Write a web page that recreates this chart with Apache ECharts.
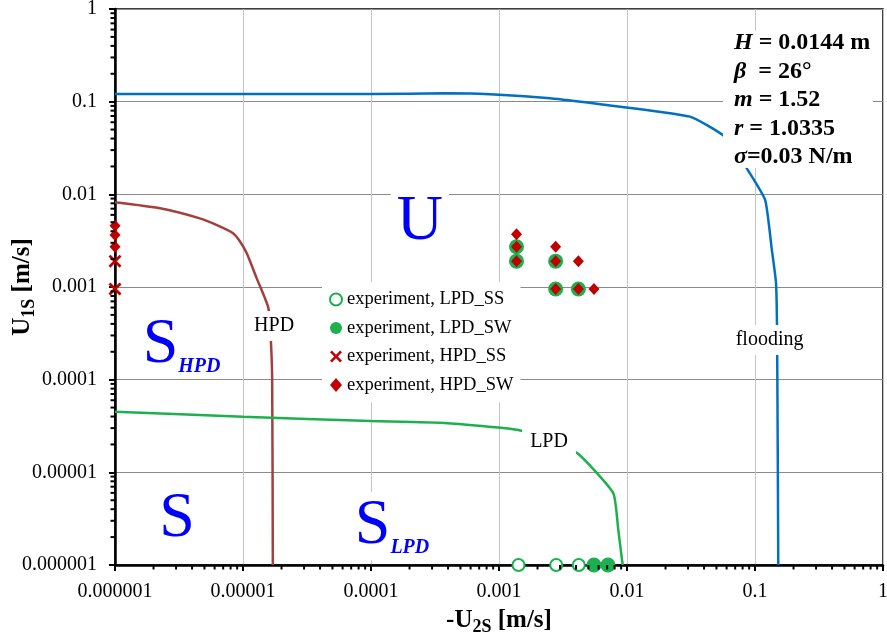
<!DOCTYPE html>
<html>
<head>
<meta charset="utf-8">
<script src="https://cdn.jsdelivr.net/npm/echarts@6/dist/echarts.min.js"></script>
<style>html,body{margin:0;padding:0;background:#fff}#c{width:887px;height:642px}</style>
</head>
<body>
<div id="c"></div>
<script>
// ---- data ----
const decadeLabels = ['0.000001','0.00001','0.0001','0.001','0.01','0.1','1'];
const floodingLine = [[1e-6,0.121],[1e-5,0.121],[1e-4,0.121],[3.8e-4,0.123],[1e-3,0.119],[2.5e-3,0.109],[5.6e-3,0.0955],[0.031,0.069],[0.058,0.042],[0.0845,0.0199],[0.12,0.0087],[0.135,0.0026],[0.146,0.0011],[0.149,0.00024],[0.152,1e-6]];
const hpdLine = [[1e-6,0.0082],[2.25e-6,0.00706],[4.6e-6,0.0055],[6.2e-6,0.00467],[8.36e-6,0.0038],[9.5e-6,0.00308],[1.07e-5,0.00231],[1.28e-5,0.00124],[1.58e-5,5.9e-4],[1.65e-5,2.68e-4],[1.69e-5,1e-4],[1.71e-5,1e-6]];
const lpdLine = [[1e-6,4.51e-5],[1e-5,3.98e-5],[1e-4,3.58e-5],[3.78e-4,3.41e-5],[1.42e-3,2.86e-5],[2.43e-3,2.2e-5],[4.17e-3,1.58e-5],[7.82e-3,5.94e-6],[8.55e-3,2.39e-6],[9.25e-3,1e-6]];
const lpdSS = [[1.42e-3,1e-6],[2.8e-3,1e-6],[4.2e-3,1e-6]];
const lpdSW = [[5.52e-3,1e-6],[7.1e-3,1e-6],[1.37e-3,0.00272],[1.37e-3,0.0019],[2.77e-3,0.0019],[2.77e-3,0.00095],[4.17e-3,0.00095]];
const hpdSS = [[1e-6,0.00095],[1e-6,0.0019]];
const hpdSW = [[1e-6,0.00272],[1e-6,0.00364],[1e-6,0.00458],[1.37e-3,0.0037],[1.37e-3,0.00272],[1.37e-3,0.0019],[2.77e-3,0.00272],[2.77e-3,0.0019],[2.77e-3,0.00095],[4.17e-3,0.0019],[4.17e-3,0.00095],[5.52e-3,0.00095]];
const seriesNames = ['experiment, LPD_SS','experiment, LPD_SW','experiment, HPD_SS','experiment, HPD_SW'];
const curveLabels = [
  {name:'HPD', value:[1.75e-5,3.8e-4]},
  {name:'LPD', value:[2.46e-3,2.15e-5]},
  {name:'flooding', value:[0.130,2.68e-4]}
];
const regionLabels = [
  {name:'U', sub:'', value:[2.41e-4,5.0e-3]},
  {name:'S', sub:'HPD', value:[3.31e-6,2.37e-4]},
  {name:'S', sub:'', value:[3.05e-6,3.1e-6]},
  {name:'S', sub:'LPD', value:[1.46e-4,2.64e-6]}
];
const paramLines = [['H',' = 0.0144 m'],['β','  = 26°'],['m',' = 1.52'],['r',' = 1.0335'],['σ','=0.03 N/m']];

// ---- styling ----
const FF = "'Liberation Serif','Times New Roman',serif";
const BLUE = '#0070C0', BROWN = '#A3403D', GREEN = '#1DB04E', RED = '#C00000', REGION = '#0000FF';
const XPATH = 'path://M0,3L3,0L10,7L17,0L20,3L13,10L20,17L17,20L10,13L3,20L0,17L7,10Z';

function decadeLabel(v){ const i = Math.round(Math.log10(v)) + 6; return decadeLabels[i] !== undefined ? decadeLabels[i] : ''; }
const minorVals = [];
for (let e = -6; e < 0; e++) for (let k = 2; k <= 9; k++) minorVals.push(k * Math.pow(10, e));

const nameRich = {m:{fontFamily:FF,fontSize:25,fontWeight:'bold',color:'#000',lineHeight:31},s:{fontFamily:FF,fontSize:18,fontWeight:'bold',color:'#000',verticalAlign:'bottom'}};

const chart = echarts.init(document.getElementById('c'), null, {renderer:'canvas'});
chart.setOption({
  backgroundColor:'#fff',
  animation:false,
  grid:{left:115, right:4, top:9, bottom:77, outerBoundsMode:'none', containLabel:false, show:true, borderColor:'#000', borderWidth:1.5, backgroundColor:'transparent'},
  legend:{
    data: seriesNames.map(n=>({name:n})),
    orient:'vertical', left:322, top:282,
    padding:[8,7,8,7], itemGap:9.5, itemWidth:12, itemHeight:14,
    backgroundColor:'#fff',
    textStyle:{fontFamily:FF, fontSize:18.5, color:'#000'},
    selectedMode:false
  },
  xAxis:{
    type:'log', logBase:10, min:1e-6, max:1, splitNumber:6,
    name:'{m|-U}{s|2S}{m| [m/s]}', nameLocation:'middle', nameGap:40, nameMoveOverlap:false,
    nameTextStyle:{rich:nameRich},
    axisLine:{show:true, onZero:false, lineStyle:{color:'#000', width:2.5}},
    axisTick:{show:true, length:6, lineStyle:{color:'#000', width:2}},
    axisLabel:{formatter:decadeLabel, fontFamily:FF, fontSize:20, color:'#000', margin:17, showMinLabel:true, showMaxLabel:true},
    splitLine:{show:true, lineStyle:{color:'#C4C4C4', width:1}}
  },
  yAxis:{
    type:'log', logBase:10, min:1e-6, max:1, splitNumber:6,
    name:'{m|U}{s|1S}{m| [m/s]}', nameLocation:'middle', nameGap:77, nameRotate:90, nameMoveOverlap:false,
    nameTextStyle:{rich:nameRich},
    axisLine:{show:true, onZero:false, lineStyle:{color:'#000', width:2.5}},
    axisTick:{show:true, length:6, lineStyle:{color:'#000', width:2}},
    axisLabel:{formatter:decadeLabel, fontFamily:FF, fontSize:20, color:'#000', margin:18, showMinLabel:true, showMaxLabel:true},
    splitLine:{show:true, lineStyle:{color:'#8A8A8A', width:1}}
  },
  series:[
    {type:'line', name:'flooding', data:floodingLine, showSymbol:false, smooth:0.15, lineStyle:{color:BLUE, width:2.5}, z:2, silent:true},
    {type:'line', name:'HPD', data:hpdLine, showSymbol:false, smooth:0.2, lineStyle:{color:BROWN, width:2.5}, z:2, silent:true},
    {type:'line', name:'LPD', data:lpdLine, showSymbol:false, smooth:0.15, lineStyle:{color:GREEN, width:2.5}, z:2, silent:true},
    {type:'scatter', name:seriesNames[0], data:lpdSS, symbol:'emptyCircle', symbolSize:12, clip:false, itemStyle:{color:GREEN, borderColor:GREEN, borderWidth:2, opacity:1}, z:3},
    {type:'scatter', name:seriesNames[1], data:lpdSW, symbol:'circle', symbolSize:15, clip:false, itemStyle:{color:GREEN, opacity:1}, z:3},
    {type:'scatter', name:seriesNames[2], data:hpdSS, symbol:XPATH, symbolSize:13, clip:false, itemStyle:{color:RED, opacity:1}, z:4},
    {type:'scatter', name:seriesNames[3], data:hpdSW, symbol:'diamond', symbolSize:[11,12], clip:false, itemStyle:{color:RED, opacity:1}, z:4},
    {type:'custom', name:'xminor', data:minorVals.map(v=>[v,1e-6]), clip:false, silent:true, z:6,
      renderItem:function(params, api){ const p = api.coord([api.value(0), api.value(1)]); return {type:'line', shape:{x1:p[0],y1:p[1],x2:p[0],y2:p[1]+4.5}, style:{stroke:'#000', lineWidth:2}}; }},
    {type:'custom', name:'yminor', data:minorVals.map(v=>[1e-6,v]), clip:false, silent:true, z:6,
      renderItem:function(params, api){ const p = api.coord([api.value(0), api.value(1)]); return {type:'line', shape:{x1:p[0]-4.5,y1:p[1],x2:p[0],y2:p[1]}, style:{stroke:'#000', lineWidth:2}}; }},
    {type:'scatter', name:'curveLabels', data:curveLabels, symbolSize:1, clip:false, silent:true, z:8,
      itemStyle:{color:'transparent', opacity:1},
      label:{show:true, position:'inside', formatter:p=>p.name, fontFamily:FF, fontSize:20, color:'#000', backgroundColor:'#fff', padding:[5,8]}},
    {type:'scatter', name:'regionLabels', data:regionLabels, symbolSize:1, clip:false, silent:true, z:8,
      itemStyle:{color:'transparent', opacity:1},
      label:{show:true, position:'inside', backgroundColor:'#fff', padding:[2,6],
        formatter:p=>{ const d = regionLabels[p.dataIndex]; return '{big|'+d.name+'}' + (d.sub ? '{sub|'+d.sub+'}' : ''); },
        rich:{big:{fontFamily:FF, fontSize:64, color:REGION, lineHeight:64}, sub:{fontFamily:FF, fontSize:20, fontStyle:'italic', fontWeight:'bold', color:REGION, verticalAlign:'bottom'}}}}
  ],
  graphic:[
    {type:'rect', shape:{x:723, y:31, width:150, height:137}, style:{fill:'#fff'}, z:50},
    {type:'text', x:734, y:29, z:51, style:{
      text: paramLines.map(l=>'{i|'+l[0]+'}{b|'+l[1]+'}').join('\n'),
      rich:{i:{fontFamily:FF, fontSize:24, fontStyle:'italic', fontWeight:'bold', fill:'#000', lineHeight:28.5}, b:{fontFamily:FF, fontSize:24, fontWeight:'bold', fill:'#000', lineHeight:28.5}}
    }}
  ]
});
</script>
</body>
</html>
